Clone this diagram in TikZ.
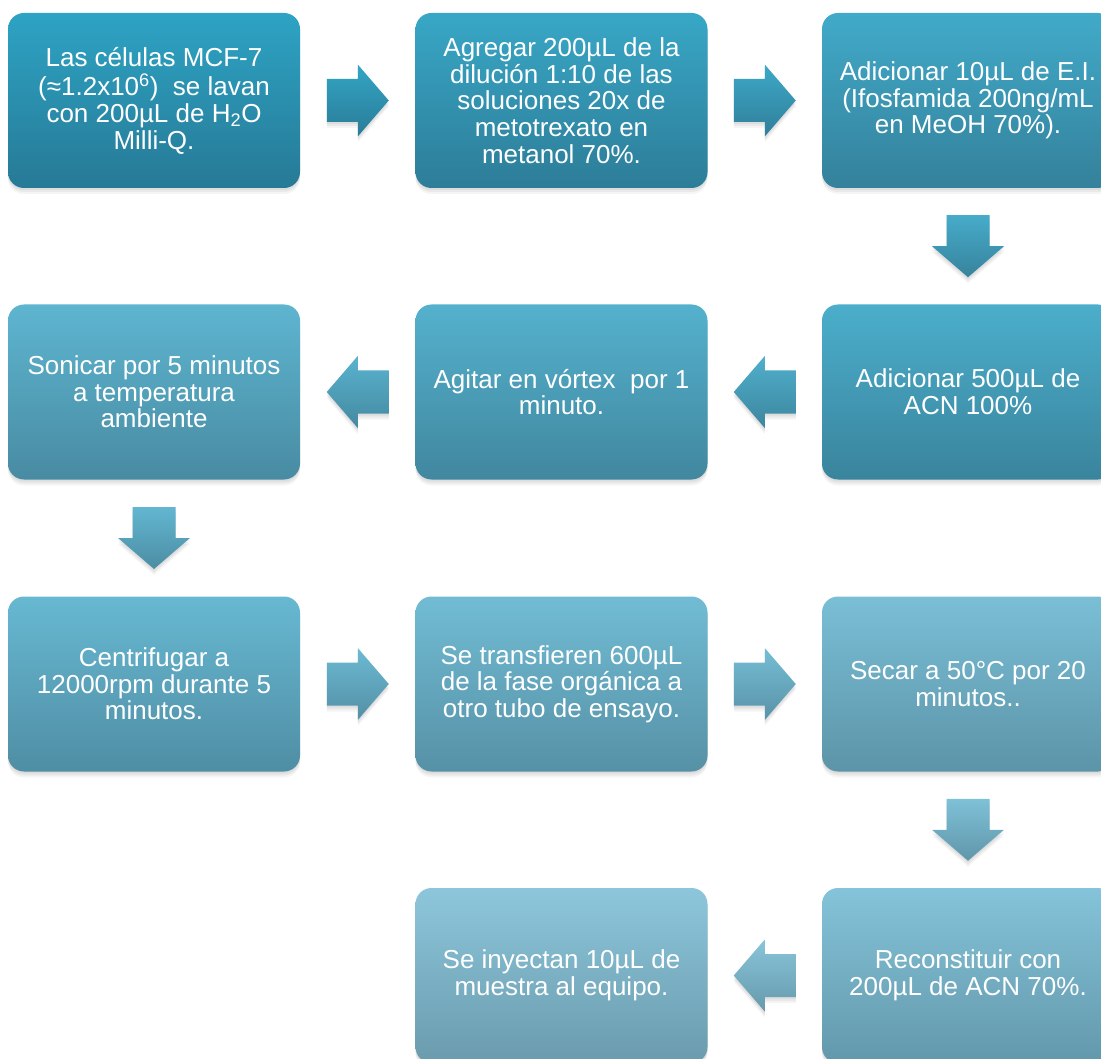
\documentclass[tikz,border=0pt]{standalone}
\usepackage{fontspec}
\setmainfont{Liberation Sans}
\usetikzlibrary{calc,shadows}
\definecolor{t0}{RGB}{46,163,196}\definecolor{b0}{RGB}{38,122,150}
\definecolor{t1}{RGB}{56,167,198}\definecolor{b1}{RGB}{45,125,152}
\definecolor{t2}{RGB}{65,170,201}\definecolor{b2}{RGB}{52,129,155}
\definecolor{t3}{RGB}{75,174,203}\definecolor{b3}{RGB}{58,132,157}
\definecolor{t4}{RGB}{84,177,205}\definecolor{b4}{RGB}{65,135,159}
\definecolor{t5}{RGB}{94,181,208}\definecolor{b5}{RGB}{72,139,162}
\definecolor{t6}{RGB}{103,184,210}\definecolor{b6}{RGB}{79,142,164}
\definecolor{t7}{RGB}{113,188,212}\definecolor{b7}{RGB}{86,145,166}
\definecolor{t8}{RGB}{122,191,214}\definecolor{b8}{RGB}{92,148,168}
\definecolor{t9}{RGB}{132,195,217}\definecolor{b9}{RGB}{99,152,171}
\definecolor{t10}{RGB}{141,198,219}\definecolor{b10}{RGB}{106,155,173}
\newcommand\rarrowat[3]{\shade[top color=#2,bottom color=#3,softshadow,shift={(#1)}] (-31,21.5) -- (0,21.5) -- (0,36) -- (31,0) -- (0,-36) -- (0,-21.5) -- (-31,-21.5) -- cycle;}
\newcommand\larrowat[3]{\shade[top color=#2,bottom color=#3,softshadow,shift={(#1)}] (31,21.5) -- (0,21.5) -- (0,36) -- (-31,0) -- (0,-36) -- (0,-21.5) -- (31,-21.5) -- cycle;}
\newcommand\darrowat[3]{\shade[top color=#2,bottom color=#3,softshadow,shift={(#1)}] (-21.5,31) -- (21.5,31) -- (21.5,0) -- (36,0) -- (0,-31) -- (-36,0) -- (-21.5,0) -- cycle;}
\begin{document}
\begin{tikzpicture}[x=1pt,y=1pt,
  softshadow/.style={
    general shadow={fill=black,opacity=0.05,shadow yshift=-2pt},
    general shadow={fill=black,opacity=0.05,shadow yshift=-4pt},
    general shadow={fill=black,opacity=0.04,shadow yshift=-6pt}},
  box/.style={rectangle, rounded corners=16pt, minimum width=292pt, minimum height=175pt,
    inner sep=0pt, text=white, align=center,
    font=\fontsize{26pt}{26.7pt}\selectfont, softshadow}]
\useasboundingbox (0,0) rectangle (1101,-1059);
\clip (0,0) rectangle (1101,-1059);
\node[box, top color=t0, bottom color=b0] (s1) at (154,-100.5)
  {Las células MCF-7\\[3pt](≈1.2x10\textsuperscript{6})\ \ se lavan\\con 200µL de H\textsubscript{2}O\\Milli-Q.};
\node[box, top color=t1, bottom color=b1] (s2) at (561.5,-100.5)
  {Agregar 200µL de la\\dilución 1:10 de las\\soluciones 20x de\\metotrexato en\\metanol 70\%.};
\node[box, top color=t2, bottom color=b2] (s3) at (968,-100.5)
  {Adicionar 10µL de E.I.\\(Ifosfamida 200ng/mL\\en MeOH 70\%).};
\node[box, top color=t3, bottom color=b3] (s4) at (968,-392)
  {Adicionar 500µL de\\ACN 100\%};
\node[box, top color=t4, bottom color=b4] (s5) at (561.5,-392)
  {Agitar en vórtex\ \ por 1\\minuto.};
\node[box, top color=t5, bottom color=b5] (s6) at (154,-392)
  {Sonicar por 5 minutos\\a temperatura\\ambiente};
\node[box, top color=t6, bottom color=b6] (s7) at (154,-684)
  {Centrifugar a\\12000rpm durante 5\\minutos.};
\node[box, top color=t7, bottom color=b7] (s8) at (561.5,-684)
  {Se transfieren 600µL\\de la fase orgánica a\\otro tubo de ensayo.};
\node[box, top color=t8, bottom color=b8] (s9) at (968,-684)
  {Secar a 50°C por 20\\minutos..};
\node[box, top color=t9, bottom color=b9] (s10) at (968,-975.5)
  {Reconstituir con\\200µL de ACN 70\%.};
\node[box, top color=t10, bottom color=b10] (s11) at (561.5,-975.5)
  {Se inyectan 10µL de\\muestra al equipo.};
\coordinate (a1) at ($(s1.east)!0.5!(s2.west)$);
\coordinate (a2) at ($(s2.east)!0.5!(s3.west)$);
\coordinate (a3) at ($(s3.south)!0.5!(s4.north)$);
\coordinate (a4) at ($(s4.west)!0.5!(s5.east)$);
\coordinate (a5) at ($(s5.west)!0.5!(s6.east)$);
\coordinate (a6) at ($(s6.south)!0.5!(s7.north)$);
\coordinate (a7) at ($(s7.east)!0.5!(s8.west)$);
\coordinate (a8) at ($(s8.east)!0.5!(s9.west)$);
\coordinate (a9) at ($(s9.south)!0.5!(s10.north)$);
\coordinate (a10) at ($(s10.west)!0.5!(s11.east)$);
\rarrowat{a1}{t0!50!t1}{b0!50!b1}
\rarrowat{a2}{t1!50!t2}{b1!50!b2}
\darrowat{a3}{t2!50!t3}{b2!50!b3}
\larrowat{a4}{t3!50!t4}{b3!50!b4}
\larrowat{a5}{t4!50!t5}{b4!50!b5}
\darrowat{a6}{t5!50!t6}{b5!50!b6}
\rarrowat{a7}{t6!50!t7}{b6!50!b7}
\rarrowat{a8}{t7!50!t8}{b7!50!b8}
\darrowat{a9}{t8!50!t9}{b8!50!b9}
\larrowat{a10}{t9!50!t10}{b9!50!b10}
\end{tikzpicture}
\end{document}
